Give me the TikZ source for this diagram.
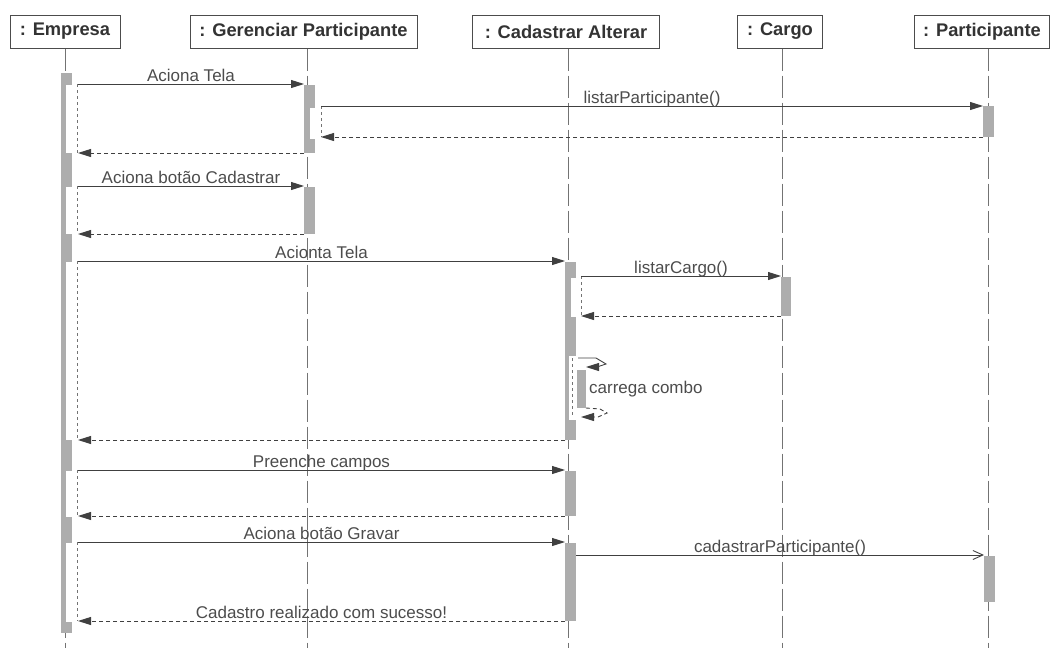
\documentclass[tikz,border=0pt]{standalone}
\usepackage{fontspec}
\setmainfont{Liberation Sans}
\usetikzlibrary{arrows.meta}
\begin{document}
\begin{tikzpicture}[x=1pt,y=-1pt,
  hdr/.style={draw=black!70,line width=1pt,fill=white,inner sep=0pt,minimum height=33pt,
              font=\fontsize{18.3}{21}\selectfont\bfseries,text=black!80},
  life/.style={draw=black!55,line width=0.8pt,dash pattern=on 22pt off 5pt},
  barfill/.style={fill=black!32},
  notch/.style={fill=white},
  focus/.style={draw=black!55,line width=0.8pt,dash pattern=on 3pt off 3pt},
  call/.style={draw=black!75,line width=0.9pt,-{Triangle[length=13pt,width=8pt]}},
  ret/.style={call,dash pattern=on 4pt off 3pt},
  async/.style={draw=black!75,line width=0.9pt,-{Straight Barb[length=10pt,width=9pt]}},
  lbl/.style={font=\fontsize{17}{20}\selectfont,text=black!70,inner sep=0pt,anchor=base,yshift=2.5pt},
]
\useasboundingbox (0,0) rectangle (1058,648);

% lifeline ends
\coordinate (xE) at (65,648);
\coordinate (xG) at (307,648);
\coordinate (xC) at (568,648);
\coordinate (xK) at (782,648);
\coordinate (xP) at (988,648);

% headers
\node[hdr,minimum width=110pt] (emp) at (65,31.5) {: Empresa};
\node[hdr,minimum width=227pt] (ger) at (303.5,31.5) {: Gerenciar Participante};
\node[hdr,minimum width=187pt] (cad) at (566,31.5) {: Cadastrar Alterar};
\node[hdr,minimum width=85pt] (car) at (780,31.5) {: Cargo};
\node[hdr,minimum width=135pt] (par) at (982,31.5) {: Participante};

% lifelines
\draw[life] (xE |- emp.south) -- (xE);
\draw[life] (xG |- ger.south) -- (xG);
\draw[life] (xC |- cad.south) -- (xC);
\draw[life] (xK |- car.south) -- (xK);
\draw[life] (xP |- par.south) -- (xP);

% activation bars
\fill[barfill] (61,73) rectangle (72,633);
\fill[barfill] (304,85) rectangle (315,153);
\fill[barfill] (304,187) rectangle (315,234);
\fill[barfill] (565,262) rectangle (576,440);
\fill[barfill] (565,471) rectangle (576,516);
\fill[barfill] (565,543) rectangle (576,621);
\fill[barfill] (781,277) rectangle (791,316);
\fill[barfill] (983,106) rectangle (994,137);
\fill[barfill] (984,556) rectangle (995,602);

% notches where a nested focus begins
\fill[notch] (66,85) rectangle (72,153);
\fill[notch] (66,187) rectangle (72,234);
\fill[notch] (66,262) rectangle (72,440);
\fill[notch] (66,471) rectangle (72,517);
\fill[notch] (66,543) rectangle (72,622);
\fill[notch] (310,108) rectangle (315,139);
\fill[notch] (571,278) rectangle (576,317);
\fill[notch] (569,356) rectangle (576,420);
\fill[barfill] (577,370) rectangle (586,408);

% dashed focus edges
\draw[focus] (77,84) -- (77,153);
\draw[focus] (77,186) -- (77,234);
\draw[focus] (77,261) -- (77,440);
\draw[focus] (77,470) -- (77,516);
\draw[focus] (77,542) -- (77,621);
\draw[focus] (321,106) -- (321,137);
\draw[focus] (581,276) -- (581,316);
\draw[focus] (572,358) -- (572,417);

% message end points
\coordinate (a1) at (78,84);   \coordinate (b1) at (304,84);
\coordinate (a2) at (321,106); \coordinate (b2) at (983,106);
\coordinate (a3) at (983,137); \coordinate (b3) at (321,137);
\coordinate (a4) at (304,153); \coordinate (b4) at (78,153);
\coordinate (a5) at (78,186);  \coordinate (b5) at (304,186);
\coordinate (a6) at (304,234); \coordinate (b6) at (78,234);
\coordinate (a7) at (78,261);  \coordinate (b7) at (565,261);
\coordinate (a8) at (581,276); \coordinate (b8) at (781,276);
\coordinate (a9) at (781,316); \coordinate (b9) at (581,316);
\coordinate (s1) at (578,358); \coordinate (s2) at (586,367);
\coordinate (t1) at (586,408); \coordinate (t2) at (581,417);
\coordinate (a10) at (565,440); \coordinate (b10) at (78,440);
\coordinate (a11) at (78,470);  \coordinate (b11) at (565,470);
\coordinate (a12) at (565,516); \coordinate (b12) at (78,516);
\coordinate (a13) at (78,542);  \coordinate (b13) at (565,542);
\coordinate (a14) at (576,555); \coordinate (b14) at (984,555);
\coordinate (a15) at (565,621); \coordinate (b15) at (78,621);

% messages
\draw[call] (a1) -- node[lbl] (l1) {Aciona Tela} (b1);
\draw[call] (a2) -- node[lbl] (l2) {listarParticipante()} (b2);
\draw[ret] (a3) -- (b3);
\draw[ret] (a4) -- (b4);
\draw[call] (a5) -- node[lbl] (l5) {Aciona botão Cadastrar} (b5);
\draw[ret] (a6) -- (b6);
\draw[call] (a7) -- node[lbl] (l7) {Acionta Tela} (b7);
\draw[call] (a8) -- node[lbl] (l8) {listarCargo()} (b8);
\draw[ret] (a9) -- (b9);
\draw[call] (s1) -- ++(18,0) -- ++(10,6) -- ++(-9,3) -- (s2);
\node[font=\fontsize{17}{20}\selectfont,text=black!70,inner sep=0pt,anchor=west] (l9) at (589,389) {carrega combo};
\draw[ret] (t1) -- ++(14,1) -- ++(7,4) -- ++(-9,4) -- (t2);
\draw[ret] (a10) -- (b10);
\draw[call] (a11) -- node[lbl] (l11) {Preenche campos} (b11);
\draw[ret] (a12) -- (b12);
\draw[call] (a13) -- node[lbl] (l13) {Aciona botão Gravar} (b13);
\draw[async] (a14) -- node[lbl] (l14) {cadastrarParticipante()} (b14);
\draw[ret] (a15) -- node[lbl] (l15) {Cadastro realizado com sucesso!} (b15);
\end{tikzpicture}
\end{document}
